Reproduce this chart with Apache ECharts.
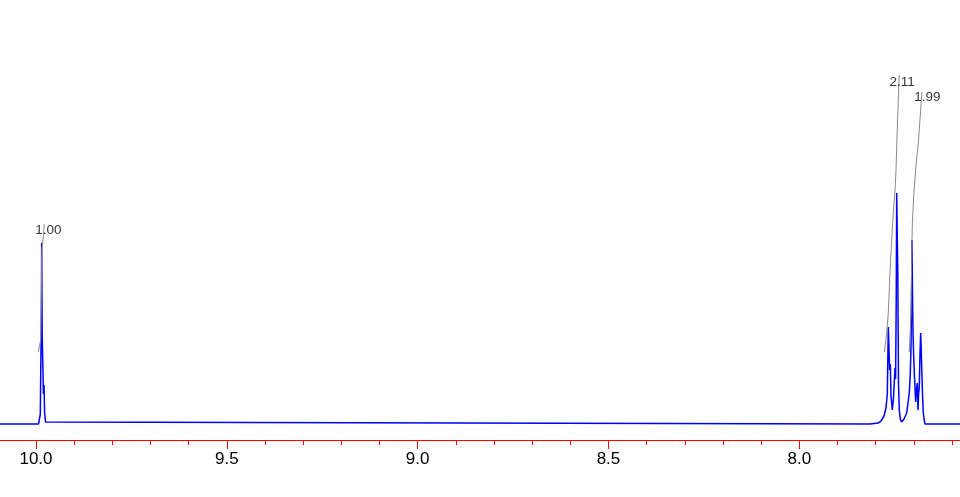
<!DOCTYPE html>
<html>
<head>
<meta charset="utf-8">
<script src="https://cdn.jsdelivr.net/npm/echarts@6/dist/echarts.min.js"></script>
<style>
html,body{margin:0;padding:0;background:#fff;}
#chart{width:960px;height:497px;}
</style>
</head>
<body>
<div id="chart"></div>
<script>
// Chemical shift (ppm) and intensity of the 1H NMR spectrum
const specPpm = [10.5, 9.9934, 9.9908, 9.9887, 9.9874, 9.9861, 9.9851, 9.9838, 9.9822, 9.9806, 9.9790, 9.9775, 9.9751, 9.9725,
  7.8147, 7.7938, 7.7859, 7.7781, 7.7728, 7.7694, 7.7668, 7.7650, 7.7634, 7.7616, 7.7597, 7.7563, 7.7532, 7.7492, 7.7477,
  7.7461, 7.7448, 7.7432, 7.7419, 7.7401, 7.7380, 7.7354, 7.7317, 7.7257, 7.7186, 7.7118, 7.7092, 7.7073, 7.7058, 7.7047,
  7.7034, 7.7021, 7.7005, 7.6987, 7.6950, 7.6929, 7.6908, 7.6890, 7.6874, 7.6856, 7.6838, 7.6819, 7.6806, 7.6793, 7.6772,
  7.6751, 7.6727, 7.6706, 7.5];
const specInt = [0, 0, 2, 10, 60, 95, 181, 90, 60, 30, 39, 12, 2, 0,
  0, 1, 3, 8, 16, 30, 97, 75, 54, 60, 28, 14, 26, 56, 45,
  120, 231, 186, 150, 40, 14, 5, 2, 5, 11, 31, 50, 77, 130, 184,
  130, 92, 70, 51, 22, 35, 41, 14, 30, 37, 70, 91, 75, 57, 30,
  11, 4, 0, 0];

// Integral curves
const int1Ppm = [9.9940, 9.9877, 9.9861, 9.9848, 9.9803, 9.9783];
const int1Val = [72, 84, 124, 174, 189, 200];
const int2Ppm = [7.7773, 7.7715, 7.7668, 7.7605, 7.7537, 7.7492, 7.7466, 7.7432, 7.7401, 7.7382];
const int2Val = [72, 89, 111, 167, 211, 234, 254, 297, 329, 349];
const int3Ppm = [7.7118, 7.7073, 7.7055, 7.7039, 7.7008, 7.6982, 7.6929, 7.6882, 7.6819, 7.6790];
const int3Val = [72, 111, 164, 199, 224, 239, 264, 281, 314, 332];
const integralLabels = ['1.00', '2.11', '1.99'];

// Axis range and tick step (ppm)
const xMin = 7.5, xMax = 10.5, xInterval = 0.5;

const zip = (a, b) => a.map((p, i) => [p, b[i]]);
const integrals = [[int1Ppm, int1Val], [int2Ppm, int2Val], [int3Ppm, int3Val]];
const labelOffsets = [[4, 6], [3, 7], [5.5, 5]];

const chart = echarts.init(document.getElementById('chart'), null, {renderer: 'canvas'});
const font = "'Liberation Sans', Arial, sans-serif";
chart.setOption({
  animation: false,
  backgroundColor: '#ffffff',
  grid: {left: -154.825, right: -30.125, top: 0, bottom: 57, containLabel: false, outerBoundsMode: 'none'},
  xAxis: {
    type: 'value', inverse: true, min: xMin, max: xMax, interval: xInterval,
    axisLine: {show: true, onZero: false, lineStyle: {color: '#ff0000', width: 1}},
    axisTick: {show: true, length: 9, lineStyle: {color: '#ff0000', width: 1}},
    minorTick: {show: true, splitNumber: 5, length: 5, lineStyle: {color: '#ff0000', width: 1}},
    splitLine: {show: false},
    axisLabel: {show: true, margin: 11, color: '#000000', fontSize: 17, fontFamily: font,
      formatter: v => v.toFixed(1)}
  },
  yAxis: {type: 'value', min: -16, max: 424, show: false},
  series: [
    {
      type: 'line', data: zip(specPpm, specInt), showSymbol: false, symbol: 'none',
      lineStyle: {color: '#0000ff', width: 1.5}, z: 2
    },
    ...integrals.map(([p, v]) => ({
      type: 'line', data: zip(p, v), symbol: 'none',
      lineStyle: {color: '#8a8a8a', width: 1}, z: 3
    })),
    {
      type: 'scatter', symbolSize: 1, itemStyle: {color: 'rgba(0,0,0,0)'}, z: 5,
      data: integrals.map(([p, v], i) => ({
        value: [p[p.length - 1], v[v.length - 1]],
        label: {show: true, position: 'inside', offset: labelOffsets[i],
          formatter: integralLabels[i], color: '#000000', fontSize: 13.5, fontFamily: font}
      }))
    }
  ]
});
</script>
</body>
</html>
